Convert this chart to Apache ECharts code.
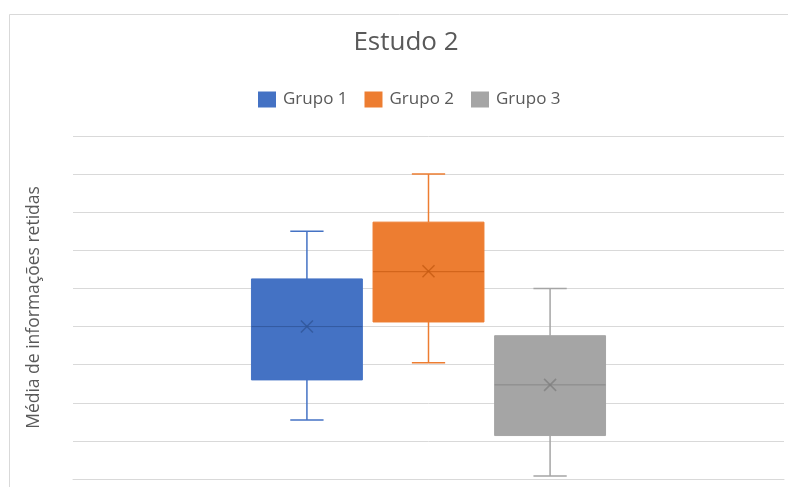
<!DOCTYPE html>
<html>
<head>
<meta charset="utf-8">
<script src="https://cdn.jsdelivr.net/npm/echarts@6/dist/echarts.min.js"></script>
<style>
  html, body { margin: 0; padding: 0; background: #ffffff; }
  #chart { width: 788px; height: 487px; }
</style>
</head>
<body>
<div id="chart"></div>
<script>
// Box-and-whisker summary per group (min, Q1, median, Q3, max, mean)
const categories = ['Estudo 2'];
const groupNames = ['Grupo 1', 'Grupo 2', 'Grupo 3'];
const minValues = [1.55, 3.05, 0.08];
const q1Values = [2.6, 4.12, 1.14];
const medianValues = [4.0, 5.44, 2.47];
const q3Values = [5.25, 6.74, 3.76];
const maxValues = [6.5, 8.0, 5.0];
const meanValues = [4.0, 5.45, 2.47];

// Value axis range (tick labels are not shown)
const yMin = 0;
const yMax = 9;
const yStep = 1;

const fills = ['#4472C4', '#ED7D31', '#A5A5A5'];
const darks = ['#2F5597', '#C55A11', '#7F7F7F'];

// Box layout inside the single category band, as fractions of the band width
const BOX_FRAC = 0.156;
const SLOT_FRAC = 0.171;
const CAP_FRAC = 0.3; // cap width relative to box width

function renderBox(params, api) {
  const idx = params.seriesIndex;
  const n = groupNames.length;
  const center = api.coord([api.value(0), 0])[0];
  const band = api.size([1, 0])[0];
  const cx = center + (idx - (n - 1) / 2) * SLOT_FRAC * band;
  const half = BOX_FRAC * band / 2;
  const capHalf = half * CAP_FRAC;
  const y = (d) => api.coord([api.value(0), api.value(d)])[1];
  const yLo = y(1), yQ1 = y(2), yMed = y(3), yQ3 = y(4), yHi = y(5), yMean = y(6);
  const color = fills[idx];
  const dark = darks[idx];
  const lineStyle = { stroke: color, lineWidth: 1.5 };
  const m = 6;
  return {
    type: 'group',
    children: [
      { type: 'line', shape: { x1: cx, y1: yHi, x2: cx, y2: yQ3 }, style: lineStyle },
      { type: 'line', shape: { x1: cx, y1: yQ1, x2: cx, y2: yLo }, style: lineStyle },
      { type: 'line', shape: { x1: cx - capHalf, y1: yHi, x2: cx + capHalf, y2: yHi }, style: lineStyle },
      { type: 'line', shape: { x1: cx - capHalf, y1: yLo, x2: cx + capHalf, y2: yLo }, style: lineStyle },
      { type: 'rect', shape: { x: cx - half, y: yQ3, width: half * 2, height: yQ1 - yQ3 },
        style: { fill: color, stroke: color, lineWidth: 1 } },
      { type: 'line', shape: { x1: cx - half, y1: yMed, x2: cx + half, y2: yMed },
        style: { stroke: dark, lineWidth: 1, opacity: 0.8 } },
      { type: 'line', shape: { x1: cx - m, y1: yMean - m, x2: cx + m, y2: yMean + m },
        style: { stroke: dark, lineWidth: 1.5, opacity: 0.8 } },
      { type: 'line', shape: { x1: cx - m, y1: yMean + m, x2: cx + m, y2: yMean - m },
        style: { stroke: dark, lineWidth: 1.5, opacity: 0.8 } }
    ]
  };
}

const series = groupNames.map((name, i) => ({
  name: name,
  type: 'custom',
  renderItem: renderBox,
  itemStyle: { color: fills[i] },
  encode: { x: 0, y: [1, 2, 3, 4, 5, 6] },
  data: [[0, minValues[i], q1Values[i], medianValues[i], q3Values[i], maxValues[i], meanValues[i]]]
}));

const chart = echarts.init(document.getElementById('chart'), null, { renderer: 'canvas' });
chart.setOption({
  animation: false,
  backgroundColor: '#ffffff',
  textStyle: { fontFamily: 'Open Sans' },
  graphic: [{
    type: 'rect',
    left: 7, top: 12,
    shape: { width: 820, height: 520 },
    style: { fill: 'none', stroke: '#D9D9D9', lineWidth: 1 },
    silent: true
  }],
  title: {
    text: 'Estudo 2',
    left: 406,
    top: 30,
    padding: 0,
    textAlign: 'center',
    textStyle: { fontFamily: 'Open Sans', fontSize: 26, fontWeight: 'normal', color: '#595959' }
  },
  legend: {
    data: groupNames,
    left: 258,
    top: 91,
    padding: 0,
    icon: 'rect',
    itemWidth: 18,
    itemHeight: 16,
    itemGap: 17,
    textStyle: { fontFamily: 'Open Sans', fontSize: 17, color: '#595959', padding: [0, 0, 0, 2] }
  },
  grid: { left: 73, right: 4, top: 136, bottom: 8 },
  xAxis: {
    type: 'category',
    data: categories,
    axisLine: { show: true, lineStyle: { color: '#D9D9D9', width: 1 } },
    axisTick: { show: false },
    axisLabel: { show: false },
    splitLine: { show: false }
  },
  yAxis: {
    type: 'value',
    min: yMin,
    max: yMax,
    interval: yStep,
    name: 'Média de informações retidas',
    nameLocation: 'middle',
    nameGap: 30,
    nameTextStyle: { fontFamily: 'Open Sans', fontSize: 17.5, color: '#595959' },
    axisLine: { show: false },
    axisTick: { show: false },
    axisLabel: { show: false },
    splitLine: { show: true, lineStyle: { color: '#D9D9D9', width: 1 } }
  },
  series: series
});
</script>
</body>
</html>
